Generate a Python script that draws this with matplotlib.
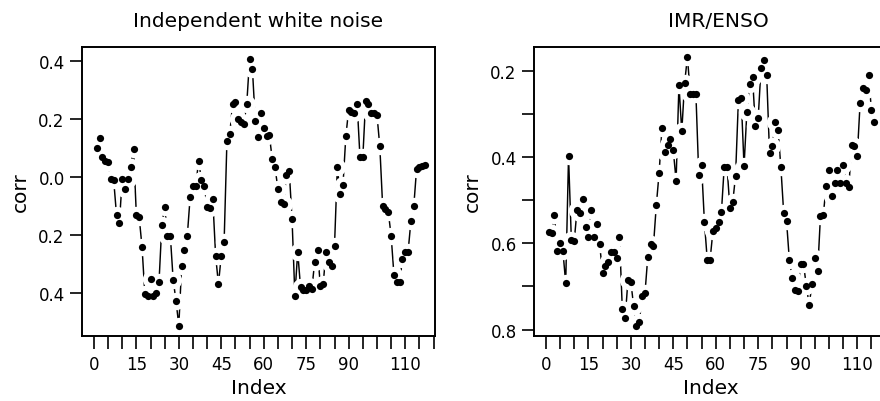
import matplotlib
matplotlib.use("Agg")
import matplotlib.pyplot as plt
import numpy as np
from matplotlib.ticker import FuncFormatter

# moving correlations (index 1..N)
white_noise = [
    0.100, 0.134, 0.069, 0.055, 0.052, -0.006, -0.011, -0.130, -0.159, -0.006,
    -0.040, -0.005, 0.034, 0.098, -0.130, -0.138, -0.239, -0.402, -0.408, -0.351,
    -0.408, -0.400, -0.362, -0.164, -0.103, -0.201, -0.201, -0.353, -0.425, -0.511,
    -0.305, -0.249, -0.201, -0.069, -0.029, -0.029, 0.057, -0.010, -0.030, -0.103,
    -0.107, -0.075, -0.270, -0.368, -0.270, -0.224, 0.126, 0.149, 0.253, 0.259,
    0.201, 0.190, 0.184, 0.253, 0.408, 0.374, 0.195, 0.138, 0.222, 0.169,
    0.141, 0.144, 0.063, 0.034, -0.040, -0.086, -0.092, 0.008, 0.023, -0.144,
    -0.408, -0.256, -0.379, -0.390, -0.387, -0.375, -0.385, -0.291, -0.249, -0.376,
    -0.368, -0.256, -0.291, -0.305, -0.236, 0.034, -0.057, -0.026, 0.141, 0.233,
    0.224, 0.220, 0.253, 0.069, 0.069, 0.264, 0.253, 0.222, 0.222, 0.215,
    0.107, -0.098, -0.109, -0.120, -0.201, -0.337, -0.362, -0.362, -0.282, -0.256,
    -0.256, -0.150, -0.100, 0.030, 0.035, 0.040, 0.042,
]
imr_enso = [
    -0.573, -0.577, -0.533, -0.617, -0.599, -0.617, -0.692, -0.398, -0.592, -0.595,
    -0.522, -0.529, -0.498, -0.563, -0.584, -0.522, -0.584, -0.555, -0.602, -0.669,
    -0.652, -0.644, -0.619, -0.619, -0.633, -0.584, -0.753, -0.774, -0.685, -0.689,
    -0.745, -0.791, -0.782, -0.722, -0.716, -0.631, -0.602, -0.605, -0.512, -0.436,
    -0.333, -0.388, -0.371, -0.357, -0.384, -0.454, -0.232, -0.340, -0.228, -0.167,
    -0.253, -0.254, -0.254, -0.441, -0.419, -0.550, -0.638, -0.638, -0.572, -0.565,
    -0.551, -0.528, -0.422, -0.423, -0.518, -0.505, -0.443, -0.268, -0.263, -0.421,
    -0.294, -0.229, -0.214, -0.328, -0.309, -0.193, -0.174, -0.210, -0.390, -0.374,
    -0.317, -0.336, -0.422, -0.529, -0.547, -0.638, -0.680, -0.708, -0.710, -0.648,
    -0.648, -0.698, -0.743, -0.695, -0.633, -0.665, -0.536, -0.534, -0.466, -0.429,
    -0.491, -0.460, -0.429, -0.460, -0.418, -0.460, -0.470, -0.371, -0.374, -0.396,
    -0.274, -0.240, -0.243, -0.210, -0.291, -0.317,
]
titles = ["Independent white noise", "IMR/ENSO"]
x_labelled = [0, 15, 30, 45, 60, 75, 90, 110]
left_yticks = [-0.4, -0.2, 0.0, 0.2, 0.4]
right_yticks = [-0.8, -0.6, -0.4, -0.2]
right_yminor = [-0.7, -0.5, -0.3]

plt.rcParams["font.family"] = ["DejaVu Sans"]

W, H = 880, 402
fig = plt.figure(figsize=(W / 100, H / 100), dpi=100)
ax1 = fig.add_axes([82 / W, 1 - 337 / H, 353 / W, 289 / H])
ax2 = fig.add_axes([534 / W, 1 - 337 / H, 353 / W, 289 / H])

# the minus signs were lost in the print, keep the labels as they appear
abs_fmt = FuncFormatter(lambda v, p: f"{abs(v):.1f}")


def draw_panel(ax, y, title, ylim, yticks, title_x):
    x = np.arange(1, len(y) + 1)
    # R style type="b": line with gaps round the points
    ax.plot(x, y, color="black", lw=1.05, zorder=1)
    ax.plot(x, y, "o", color="white", ms=12.5, mew=0, zorder=1.5)
    ax.plot(x, y, "o", color="black", ms=5.2, mew=0, zorder=2)

    ax.set_xlim(-4.2, 120.5)
    ax.set_ylim(*ylim)
    ticks = np.arange(0, 121, 5)
    ax.set_xticks(ticks)
    ax.set_xticklabels([str(t) if t in x_labelled else "" for t in ticks])
    ax.set_yticks(yticks)
    ax.yaxis.set_major_formatter(abs_fmt)

    ax.tick_params(axis="x", length=9, width=1.2, pad=5, labelsize=12)
    ax.tick_params(axis="y", length=8.5, width=1.2, pad=4, labelsize=12)
    for s in ax.spines.values():
        s.set_linewidth(1.4)

    ax.set_xlabel("Index", fontsize=14.5, labelpad=3)
    ax.set_ylabel("corr", fontsize=14.5, labelpad=6)
    ax.set_title(title, fontsize=14.5, x=title_x, pad=15)


draw_panel(ax1, white_noise, titles[0], (-0.547, 0.449), left_yticks, 0.5)
draw_panel(ax2, imr_enso, titles[1], (-0.815, -0.144), right_yticks, 0.521)
ax2.set_yticks(right_yminor, minor=True)
ax2.tick_params(axis="y", which="minor", length=8.5, width=1.2)

fig.savefig("out.png", dpi=100)
